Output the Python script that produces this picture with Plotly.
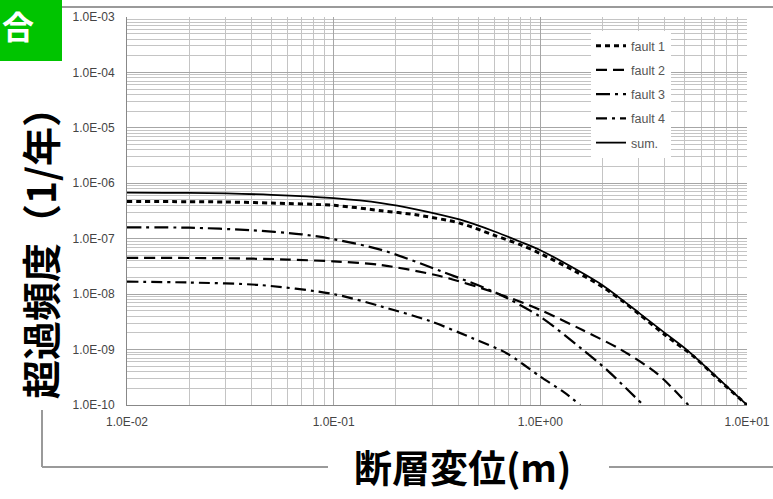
import plotly.graph_objects as go

# ---------------- data ----------------
x_fault1 = [0.01, 0.03, 0.05, 0.1, 0.17, 0.25, 0.41, 0.6, 0.8, 1.0, 1.5, 2.0, 2.5, 3.0, 4.0, 5.5, 7.5, 10.0]
y_fault1 = [4.7e-7, 4.6e-7, 4.4e-7, 4.0e-7, 3.2e-7, 2.7e-7, 1.9e-7, 1.15e-7, 7.8e-8, 5.4e-8,
            2.5e-8, 1.35e-8, 7.5e-9, 4.4e-9, 1.85e-9, 7.6e-10, 2.6e-10, 1.0e-10]

x_fault2 = [0.01, 0.03, 0.06, 0.1, 0.17, 0.33, 0.62, 1.0, 1.6, 2.45, 3.7, 5.2]
y_fault2 = [4.5e-8, 4.45e-8, 4.2e-8, 3.9e-8, 3.35e-8, 2.1e-8, 1.03e-8, 5.2e-9, 2.25e-9, 1.0e-9, 3.6e-10, 1.0e-10]

x_fault3 = [0.01, 0.02, 0.04, 0.07, 0.1, 0.17, 0.33, 0.62, 1.0, 1.6, 2.1, 2.6, 3.15]
y_fault3 = [1.6e-7, 1.58e-7, 1.42e-7, 1.2e-7, 9.8e-8, 6.3e-8, 2.6e-8, 1.03e-8, 3.9e-9, 1.0e-9, 4.3e-10, 2.0e-10, 1.0e-10]

x_fault4 = [0.01, 0.02, 0.044, 0.1, 0.17, 0.29, 0.47, 0.69, 1.0, 1.3, 1.56]
y_fault4 = [1.68e-8, 1.62e-8, 1.46e-8, 1.0e-8, 6.0e-9, 3.3e-9, 1.6e-9, 8.5e-10, 3.25e-10, 1.7e-10, 1.0e-10]

x_sum = [0.01, 0.02, 0.05, 0.1, 0.17, 0.25, 0.41, 0.6, 0.8, 1.0, 1.5, 2.0, 2.5, 3.0, 4.0, 5.1, 7.5, 10.0]
y_sum = [6.8e-7, 6.7e-7, 6.2e-7, 5.4e-7, 4.4e-7, 3.4e-7, 2.2e-7, 1.35e-7, 8.8e-8, 6.2e-8,
         2.75e-8, 1.45e-8, 7.8e-9, 4.6e-9, 2.0e-9, 1.0e-9, 2.7e-10, 1.0e-10]

series_names = ["fault 1", "fault 2", "fault 3", "fault 4", "sum."]

x_tickvals = [0.01, 0.1, 1.0, 10.0]
x_ticktext = ["1.0E-02", "1.0E-01", "1.0E+00", "1.0E+01"]
y_tickvals = [1e-10, 1e-9, 1e-8, 1e-7, 1e-6, 1e-5, 1e-4, 1e-3]
y_ticktext = ["1.0E-10", "1.0E-09", "1.0E-08", "1.0E-07", "1.0E-06", "1.0E-05", "1.0E-04", "1.0E-03"]

x_title = "断層変位(m)"
y_title = "超過頻度（1/年）"
corner_text = "合"

# ---------------- layout geometry ----------------
W, H = 773, 499
L, R, T, B = 127, 26, 17, 94
PW, PH = W - L - R, H - T - B


def px(xp):
    return (xp - L) / PW


def py(yp):
    return (H - B - yp) / PH


styles = [
    dict(dash="5px,4px", width=3),
    dict(dash="11px,6px", width=2.2),
    dict(dash="14px,5px,3px,5px", width=2.2),
    dict(dash="11px,5px,3px,5px", width=2.2),
    dict(dash="solid", width=1.8),
]
xs = [x_fault1, x_fault2, x_fault3, x_fault4, x_sum]
ys = [y_fault1, y_fault2, y_fault3, y_fault4, y_sum]

fig = go.Figure()
for i, (name, xv, yv, st) in enumerate(zip(series_names, xs, ys, styles)):
    fig.add_trace(go.Scatter(
        x=xv, y=yv, name=name, mode="lines", legendgroup=f"g{i}",
        line=dict(color="black", width=st["width"], dash=st["dash"], shape="spline", smoothing=0.8),
    ))

grid_major = "#a6a6a6"
grid_minor = "#c4c4c4"
tickfont = dict(family="Liberation Sans, Arial, sans-serif", size=12, color="#444444")

fig.update_xaxes(
    type="log", range=[-2, 1], tickmode="array", tickvals=x_tickvals, ticktext=x_ticktext,
    showgrid=True, gridcolor=grid_major, gridwidth=1,
    minor=dict(dtick="D1", showgrid=True, gridcolor=grid_minor, gridwidth=1, ticks=""),
    showline=True, linecolor="#888888", linewidth=1, mirror=False,
    ticks="", tickfont=tickfont, ticklabelstandoff=6, zeroline=False,
)
fig.update_yaxes(
    type="log", range=[-10, -3], tickmode="array", tickvals=y_tickvals, ticktext=y_ticktext,
    showgrid=True, gridcolor=grid_major, gridwidth=1,
    minor=dict(dtick="D1", showgrid=True, gridcolor=grid_minor, gridwidth=1, ticks=""),
    showline=True, linecolor="#888888", linewidth=1, mirror=False,
    ticks="", tickfont=tickfont, ticklabelstandoff=9, zeroline=False,
)

line_gray = "#9a9a9a"
shapes = [
    dict(type="rect", xref="paper", yref="paper", x0=px(-5), x1=px(62), y0=py(61), y1=py(-5),
         fillcolor="#00C400", line=dict(width=0), layer="above"),
    dict(type="line", xref="paper", yref="paper", x0=px(62), x1=px(775), y0=py(7), y1=py(7),
         line=dict(color=line_gray, width=2)),
    dict(type="line", xref="paper", yref="paper", x0=px(42), x1=px(42), y0=py(410), y1=py(467),
         line=dict(color=line_gray, width=2)),
    dict(type="line", xref="paper", yref="paper", x0=px(42), x1=px(328), y0=py(467), y1=py(467),
         line=dict(color=line_gray, width=2)),
    dict(type="line", xref="paper", yref="paper", x0=px(609), x1=px(775), y0=py(467), y1=py(467),
         line=dict(color=line_gray, width=2)),
]

cjk = "Noto Sans CJK JP, sans-serif"
annotations = [
    dict(text=corner_text, xref="paper", yref="paper", x=px(18), y=py(25), showarrow=False,
         font=dict(family=cjk, size=32, color="white", weight="bold"), xanchor="center", yanchor="middle"),
    dict(text=y_title, xref="paper", yref="paper", x=px(39), y=py(244), showarrow=False, textangle=-90,
         font=dict(family=cjk, size=39, color="black", weight="bold"), xanchor="center", yanchor="middle"),
    dict(text=x_title, xref="paper", yref="paper", x=px(462), y=py(466), showarrow=False,
         font=dict(family=cjk, size=38, color="black", weight="bold"), xanchor="center", yanchor="middle"),
]

fig.update_layout(
    width=W, height=H, margin=dict(l=L, r=R, t=T, b=B, autoexpand=False),
    paper_bgcolor="white", plot_bgcolor="white",
    shapes=shapes, annotations=annotations,
    showlegend=True,
    legend=dict(x=px(591), y=py(31), xanchor="left", yanchor="top", bgcolor="white",
                borderwidth=0, tracegroupgap=5,
                font=dict(family="Liberation Sans, Arial, sans-serif", size=12.5, color="#555555")),
)

fig.write_html("out.html", config={"displayModeBar": False},
               post_script="document.body.style.margin='0px';document.body.style.overflow='hidden';")
